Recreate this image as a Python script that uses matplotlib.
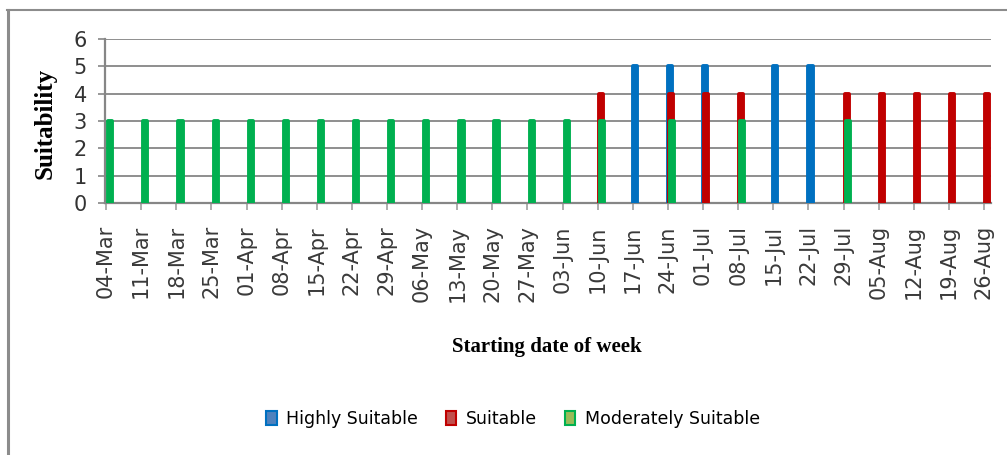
import matplotlib
matplotlib.use("Agg")
import matplotlib.pyplot as plt
from matplotlib.patches import Patch
from matplotlib.lines import Line2D
import numpy as np

weeks = ["04-Mar", "11-Mar", "18-Mar", "25-Mar", "01-Apr", "08-Apr", "15-Apr",
         "22-Apr", "29-Apr", "06-May", "13-May", "20-May", "27-May", "03-Jun",
         "10-Jun", "17-Jun", "24-Jun", "01-Jul", "08-Jul", "15-Jul", "22-Jul",
         "29-Jul", "05-Aug", "12-Aug", "19-Aug", "26-Aug"]
highly_suitable = [0, 0, 0, 0, 0, 0, 0, 0, 0, 0, 0, 0, 0, 0,
                   0, 5, 5, 5, 0, 5, 5, 0, 0, 0, 0, 0]
suitable = [0, 0, 0, 0, 0, 0, 0, 0, 0, 0, 0, 0, 0, 0,
            4, 0, 4, 4, 4, 0, 0, 4, 4, 4, 4, 4]
moderately_suitable = [3, 3, 3, 3, 3, 3, 3, 3, 3, 3, 3, 3, 3, 3,
                       3, 0, 3, 0, 3, 0, 0, 3, 0, 0, 0, 0]
series_names = ["Highly Suitable", "Suitable", "Moderately Suitable"]
y_ticks = [0, 1, 2, 3, 4, 5, 6]

bar_colors = ["#0070C0", "#C00000", "#00B050"]
legend_fill = ["#4F81BD", "#C0504D", "#9BBB59"]
offsets = [0.06, 0.09, 0.12]

W, H = 1007, 455
fig = plt.figure(figsize=(W / 100, H / 100), dpi=100)
ax = fig.add_axes([105 / W, 1 - 203 / H, (991 - 105) / W, (203 - 39) / H])

x = np.arange(len(weeks))
for vals, col, off in zip([highly_suitable, suitable, moderately_suitable], bar_colors, offsets):
    v = np.array(vals, dtype=float)
    mask = v > 0
    ax.bar(x[mask] + off, v[mask], width=0.12, color=col, edgecolor=col,
           linewidth=2.8, joinstyle="round", zorder=3)

ax.set_xlim(-0.03, 25.2)
ax.set_ylim(0, 6)
ax.set_yticks(y_ticks)
ax.set_yticklabels([str(t) for t in y_ticks], fontsize=15, color="#333333")
ax.set_xticks(x)
ax.set_xticklabels(weeks, rotation=90, fontsize=15, color="#3a3a3a",
                   ha="center", va="top")
ax.grid(axis="y", color="#868686", linewidth=1.3, zorder=0)
ax.set_axisbelow(True)
for s in ["top", "right"]:
    ax.spines[s].set_visible(False)
for s in ["left", "bottom"]:
    ax.spines[s].set_color("#868686")
    ax.spines[s].set_linewidth(1.6)
ax.tick_params(axis="y", length=5, width=1.2, color="#868686", pad=8)
ax.tick_params(axis="x", length=5, width=1.2, color="#a0a0a0", pad=11)

fig.text(45 / W, 1 - 123 / H, "Suitability", rotation=90, ha="center", va="center",
         family="Liberation Serif", fontweight="bold", fontsize=18)
fig.text(547 / W, 1 - 347 / H, "Starting date of week", ha="center", va="center",
         family="Liberation Serif", fontweight="bold", fontsize=15)

handles = [Patch(facecolor=f, edgecolor=e, linewidth=1.5) for f, e in zip(legend_fill, bar_colors)]
fig.legend(handles, series_names, loc="center", bbox_to_anchor=(513 / W, 1 - 419 / H),
           ncol=3, frameon=False, fontsize=12.5, handlelength=0.6, handleheight=0.9,
           handletextpad=0.55, columnspacing=1.6)

# chart-area border (top and left edges visible)
fig.add_artist(Line2D([7 / W, 1.0], [1 - 9.5 / H] * 2, color="#8c8c8c", linewidth=1.5,
                      transform=fig.transFigure))
fig.add_artist(Line2D([7.5 / W] * 2, [0, 1 - 9.5 / H], color="#8c8c8c", linewidth=2.2,
                      transform=fig.transFigure))

fig.savefig("out.png", dpi=100)
